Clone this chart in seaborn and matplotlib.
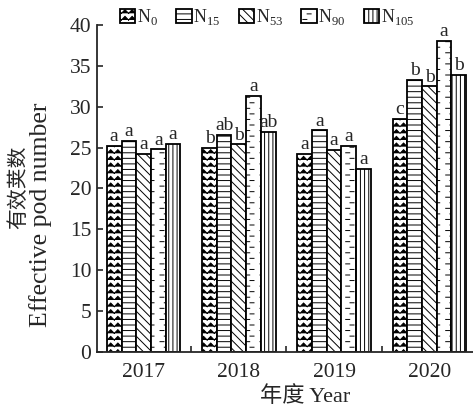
import warnings
import numpy as np
import pandas as pd
import seaborn as sns
import matplotlib
matplotlib.use("Agg")
import matplotlib.pyplot as plt
import matplotlib.patches as mpatches
from matplotlib import hatch as mhatch
from matplotlib.path import Path

warnings.filterwarnings("ignore")

years = ["2017", "2018", "2019", "2020"]
treatments = ["N0", "N15", "N53", "N90", "N105"]
legend_labels = ["N$_{0}$", "N$_{15}$", "N$_{53}$", "N$_{90}$", "N$_{105}$"]
n0 = [25.2, 25.0, 24.2, 28.5]
n15 = [25.8, 26.6, 27.1, 33.3]
n53 = [24.2, 25.4, 24.7, 32.5]
n90 = [24.8, 31.3, 25.2, 38.1]
n105 = [25.5, 26.9, 22.4, 33.9]
letters = {
    "N0": ["a", "b", "a", "c"],
    "N15": ["a", "ab", "a", "b"],
    "N53": ["a", "b", "a", "b"],
    "N90": ["a", "a", "a", "a"],
    "N105": ["a", "ab", "a", "b"],
}


# extra hatch patterns: '^' chevrons, ':' staggered short dashes
class ChevronHatch(mhatch.HatchPatternBase):
    def __init__(self, hatch, density):
        c = hatch.count("^")
        self.rows = 15 * c
        self.cols = 14 * c
        self.num_vertices = self.rows * self.cols * 3

    def set_vertices_and_codes(self, vertices, codes):
        k = 0
        for i in range(self.rows):
            for j in range(self.cols):
                x0, y0 = j / self.cols, i / self.rows
                vertices[k:k + 3] = [(x0, y0),
                                     (x0 + 0.5 / self.cols, y0 + 0.55 / self.rows),
                                     (x0 + 1.0 / self.cols, y0)]
                codes[k:k + 3] = [Path.MOVETO, Path.LINETO, Path.LINETO]
                k += 3


class DashHatch(mhatch.HatchPatternBase):
    def __init__(self, hatch, density):
        c = hatch.count(":")
        self.rows = 18 * c
        self.cols = 7 * c
        self.num_vertices = self.rows * self.cols * 2

    def set_vertices_and_codes(self, vertices, codes):
        k = 0
        for i in range(self.rows):
            y = (i + 0.5) / self.rows
            off = 0.3 * (i % 2)
            for j in range(self.cols):
                x0 = (j + off + 0.2) / self.cols
                vertices[k:k + 2] = [(x0, y), (x0 + 0.28 / self.cols, y)]
                codes[k:k + 2] = [Path.MOVETO, Path.LINETO]
                k += 2


mhatch._hatch_types.append(ChevronHatch)
mhatch._hatch_types.append(DashHatch)

hatches = ["^", "---", "\\\\\\\\", ":", "||||"]

sns.set_style("ticks")
plt.rcParams["font.family"] = ["Liberation Serif", "Noto Sans CJK SC"]
plt.rcParams["mathtext.fontset"] = "custom"
plt.rcParams["mathtext.rm"] = "Liberation Serif"
plt.rcParams["hatch.linewidth"] = 0.7

df = pd.DataFrame({
    "year": years * 5,
    "treatment": np.repeat(treatments, 4),
    "value": n0 + n15 + n53 + n90 + n105,
})

fig = plt.figure(figsize=(4.73, 4.08), dpi=100)
ax = fig.add_axes([0.2051, 0.1373, 0.7949, 0.8015])

sns.barplot(data=df, x="year", y="value", hue="treatment", hue_order=treatments,
            palette={t: "white" for t in treatments}, edgecolor="black",
            linewidth=1.3, width=0.77, errorbar=None, legend=False, ax=ax)

for cont, h, t in zip(ax.containers, hatches, treatments):
    for bar in cont:
        bar.set_hatch(h)
    ax.bar_label(cont, labels=letters[t], padding=0.5, fontsize=14)

ax.set_ylim(0, 40)
ax.set_yticks(range(0, 41, 5))
ax.set_xlim(-0.488, 3.457)
ax.set_xticks([0.5, 1.5, 2.5], minor=True)
ax.tick_params(axis="x", which="major", length=0, labelsize=15.5, pad=8)
ax.tick_params(axis="x", which="minor", direction="in", length=4, width=1.2)
ax.tick_params(axis="y", direction="in", length=4, width=1.2, labelsize=15.5, pad=4)
for s in ["top", "right"]:
    ax.spines[s].set_visible(False)
for s in ["left", "bottom"]:
    ax.spines[s].set_linewidth(1.3)

ax.set_xlabel("年度 Year", fontsize=16)
ax.xaxis.set_label_coords(0.553, -0.103)
ax.set_ylabel("")
fig.text(0.042, 0.542, "有效荚数", rotation=90, ha="center", va="center", fontsize=15)
fig.text(0.0846, 0.473, "Effective pod number", rotation=90, ha="center", va="center", fontsize=18.5)

handles = [mpatches.Patch(facecolor="white", edgecolor="black", linewidth=1.3, hatch=h)
           for h in hatches]
fig.legend(handles, legend_labels, loc="center", bbox_to_anchor=(0.565, 0.958), ncol=5,
           frameon=False, fontsize=13, handlelength=0.85, handleheight=0.85,
           handletextpad=0.1, columnspacing=1.0, borderpad=0)

fig.savefig("out.png", dpi=100)
